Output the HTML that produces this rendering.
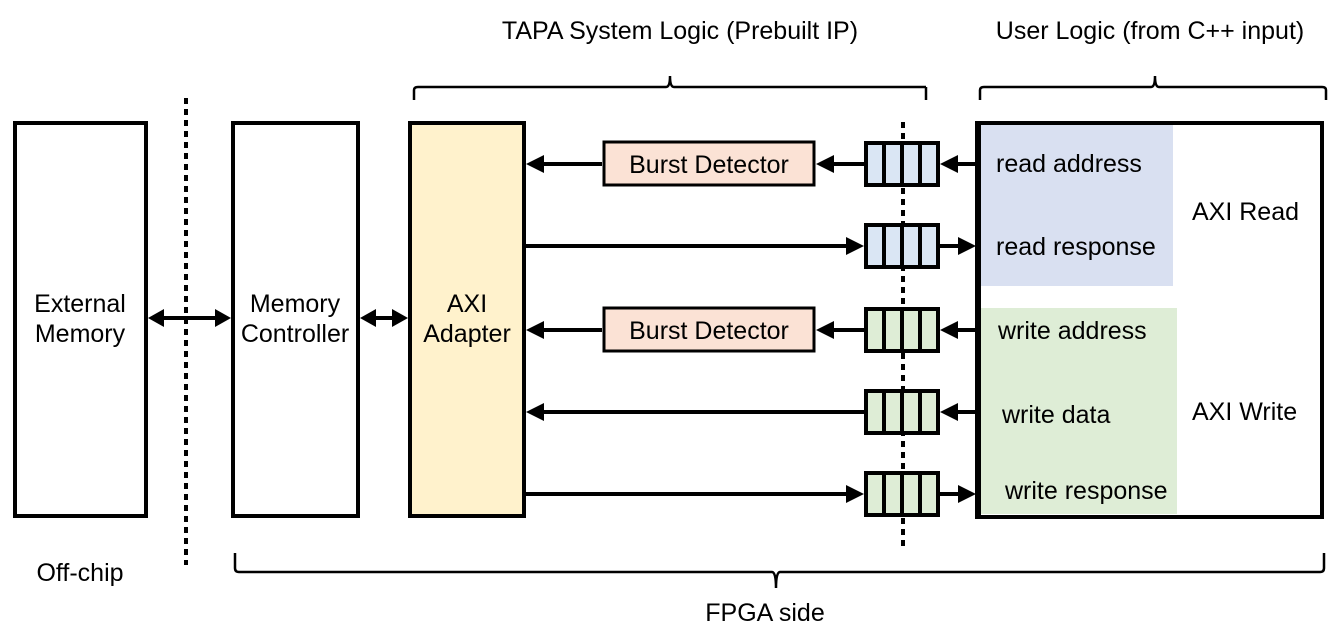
<!DOCTYPE html>
<html><head><style>body{margin:0;background:#fff}svg{display:block}text{font-family:"Liberation Sans",Arial,sans-serif;fill:#000}</style></head>
<body>
<svg width="1340" height="634" viewBox="0 0 1340 634" xmlns="http://www.w3.org/2000/svg">
<g font-size="25" text-anchor="middle">
<text x="680" y="39">TAPA System Logic (Prebuilt IP)</text>
<text x="1150" y="39">User Logic (from C++ input)</text>
<text x="80" y="581">Off-chip</text>
<text x="765" y="621">FPGA side</text>
</g>
<g fill="none" stroke="#000" stroke-width="2.5">
<path d="M414,100 L414,90 Q414,87 418,87 L666,87 Q670,87 670,76 Q670,87 674,87 L926,87"/>
<path d="M926,87 L926,100"/>
<path d="M980,100 L980,90 Q980,87 984,87 L1151,87 Q1155,87 1155,76 Q1155,87 1159,87 L1322,87 Q1326,87 1326,90 L1326,100"/>
<path d="M235,553 L235,568 Q235,572 239,572 L772,572 Q776,572 776,588 Q776,572 780,572 L1320,572 Q1324,572 1324,568 L1324,553"/>
</g>
<g stroke="#000" stroke-width="4" stroke-dasharray="6,5">
<line x1="186" y1="98" x2="186" y2="565"/>
<line x1="903" y1="122" x2="903" y2="550"/>
</g>
<g stroke="#000" stroke-width="4">
<rect x="15" y="123" width="131" height="393" fill="#fff"/>
<rect x="233" y="123" width="125" height="393" fill="#fff"/>
<rect x="410" y="123" width="114" height="393" fill="#fff2cc"/>
<rect x="977" y="123" width="345" height="394" fill="#fff"/>
</g>
<rect x="979" y="125" width="194" height="161" fill="#d9e0f1"/>
<rect x="980" y="308" width="197" height="206" fill="#deedd6"/>
<line x1="979" y1="123" x2="979" y2="517" stroke="#000" stroke-width="4"/>
<g font-size="25" text-anchor="middle">
<text x="80" y="312">External</text><text x="80" y="342">Memory</text>
<text x="295" y="312">Memory</text><text x="295" y="342">Controller</text>
<text x="467" y="312">AXI</text><text x="467" y="342">Adapter</text>
</g>
<g font-size="25">
<text x="996" y="172">read address</text>
<text x="996" y="255">read response</text>
<text x="998" y="339">write address</text>
<text x="1002" y="423">write data</text>
<text x="1005" y="499">write response</text>
<text x="1192" y="220">AXI Read</text>
<text x="1192" y="420">AXI Write</text>
</g>
<g stroke="#000" stroke-width="3" fill="#fbe2d5">
<rect x="604" y="142" width="210" height="43"/>
<rect x="604" y="308" width="210" height="43"/>
</g>
<g font-size="25" text-anchor="middle"><text x="709" y="173">Burst Detector</text><text x="709" y="339">Burst Detector</text></g>
<g stroke="#000" stroke-width="4">
<g fill="#dae6f4">
<rect x="866" y="143" width="72" height="42"/><rect x="866" y="225" width="72" height="42"/>
</g>
<g fill="#deedd6">
<rect x="866" y="309" width="72" height="42"/><rect x="866" y="391" width="72" height="42"/><rect x="866" y="473" width="72" height="42"/>
</g>
<path d="M884,143V185M902,143V185M920,143V185 M884,225V267M902,225V267M920,225V267 M884,309V351M902,309V351M920,309V351 M884,391V433M902,391V433M920,391V433 M884,473V515M902,473V515M920,473V515"/>
</g>
<g stroke="#000" stroke-width="4">
<line x1="160" y1="318" x2="220" y2="318"/>
<line x1="372" y1="318" x2="396" y2="318"/>
<line x1="864" y1="164" x2="830" y2="164"/><line x1="602" y1="164" x2="540" y2="164"/><line x1="977" y1="164" x2="956" y2="164"/>
<line x1="526" y1="246" x2="848" y2="246"/><line x1="940" y1="246" x2="962" y2="246"/>
<line x1="864" y1="330" x2="830" y2="330"/><line x1="602" y1="330" x2="540" y2="330"/><line x1="977" y1="330" x2="956" y2="330"/>
<line x1="864" y1="412" x2="540" y2="412"/><line x1="977" y1="412" x2="956" y2="412"/>
<line x1="526" y1="494" x2="848" y2="494"/><line x1="940" y1="494" x2="962" y2="494"/>
</g>
<g fill="#000">
<path d="M148,318 l16,-9 v18z"/><path d="M231,318 l-16,-9 v18z"/>
<path d="M360,318 l16,-9 v18z"/><path d="M408,318 l-16,-9 v18z"/>
<path d="M816,164 l18,-9 v18z"/><path d="M526,164 l18,-9 v18z"/><path d="M940,164 l18,-9 v18z"/>
<path d="M864,246 l-18,-9 v18z"/><path d="M976,246 l-18,-9 v18z"/>
<path d="M816,330 l18,-9 v18z"/><path d="M526,330 l18,-9 v18z"/><path d="M940,330 l18,-9 v18z"/>
<path d="M526,412 l18,-9 v18z"/><path d="M940,412 l18,-9 v18z"/>
<path d="M864,494 l-18,-9 v18z"/><path d="M976,494 l-18,-9 v18z"/>
</g>
</svg>
</body></html>
